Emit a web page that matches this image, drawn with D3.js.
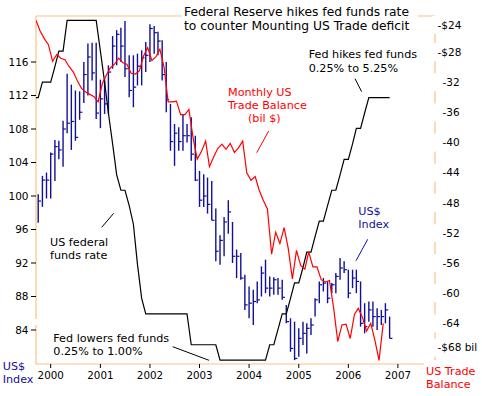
<!DOCTYPE html>
<meta charset="utf-8">
<body style="margin:0;background:#fff">
<script src="https://d3js.org/d3.v7.min.js"></script>
<script>
// US$ index, monthly bars Oct 1999 .. Nov 2006
var dxStart = new Date(1999, 9, 1);
var dxHigh = [100.2, 102.4, 102.8, 105.2, 106.7, 106.6, 109.0, 114.6, 113.3, 112.6, 112.5, 116.0,
  118.2, 118.3, 118.3, 113.9, 114.0, 115.6, 119.1, 119.8, 120.1, 120.9, 116.8, 116.8,
  117.0, 117.4, 118.4, 120.5, 120.3, 119.6, 118.6, 116.0, 111.0, 108.6, 108.2, 109.8,
  108.6, 109.4, 107.2, 103.0, 102.6, 102.2, 101.8, 98.5, 95.3, 97.5, 99.5, 96.9,
  93.6, 93.2, 90.6, 89.2, 88.8, 89.8, 91.6, 92.4, 90.4, 90.3, 90.2, 90.0,
  87.0, 85.4, 85.0, 84.2, 85.0, 84.8, 85.4, 87.8, 89.8, 90.2, 89.8, 89.6,
  90.8, 92.6, 92.2, 91.2, 91.2, 91.2, 89.8, 87.2, 87.4, 87.4, 86.6, 86.4, 87.2, 85.6];
var dxLow = [96.8, 98.7, 99.7, 99.7, 101.8, 104.4, 103.5, 107.5, 105.5, 106.6, 109.1, 111.1,
  112.0, 113.8, 109.2, 108.1, 109.8, 109.8, 115.2, 115.6, 116.0, 114.2, 111.8, 110.6,
  113.2, 113.2, 114.8, 116.0, 117.0, 116.8, 113.8, 110.0, 105.4, 103.6, 105.4, 105.4,
  106.4, 104.2, 101.8, 98.7, 98.7, 97.9, 97.1, 92.2, 91.8, 92.8, 95.5, 92.0,
  90.2, 90.0, 86.4, 85.4, 84.6, 87.2, 88.0, 88.4, 88.0, 88.2, 88.2, 87.6,
  84.8, 81.4, 80.4, 80.8, 82.2, 81.2, 83.4, 85.6, 87.2, 88.6, 87.2, 88.4,
  88.4, 90.0, 90.8, 87.8, 89.0, 88.4, 84.4, 83.6, 85.0, 84.4, 84.0, 84.6, 84.8, 83.0];
var dxClose = [99.4, 101.9, 101.9, 105.0, 105.9, 105.5, 108.0, 108.7, 108.9, 107.0, 110.0, 114.5,
  116.6, 114.7, 109.9, 111.6, 111.0, 114.8, 117.9, 119.3, 117.9, 115.2, 112.6, 113.0,
  115.5, 116.5, 116.8, 120.0, 119.5, 118.5, 114.5, 111.5, 106.5, 107.5, 106.5, 107.2,
  107.2, 105.0, 101.9, 99.5, 100.0, 99.0, 97.1, 93.4, 94.7, 96.9, 98.1, 92.8,
  92.8, 90.2, 87.0, 87.2, 87.4, 87.6, 90.8, 89.0, 89.0, 90.0, 89.0, 87.9,
  85.0, 81.8, 80.6, 83.0, 83.6, 84.2, 84.6, 87.6, 89.4, 89.6, 87.8, 89.4,
  90.4, 91.4, 91.2, 88.4, 90.2, 89.8, 84.8, 84.4, 86.4, 85.6, 85.6, 85.6, 86.4, 83.0];

// monthly US trade balance, bil $, Sep 1999 .. Sep 2006
var tradeStart = new Date(1999, 8, 15);
var tradeBalance = [-23.8, -25.2, -26.2, -27.0,
  -29.2, -28.3, -28.8, -29.0, -29.9, -30.6, -31.8, -32.8, -33.3, -33.6, -33.9, -34.6,
  -32.2, -31.0, -30.1, -29.6, -28.8, -29.4, -29.6, -30.8, -30.9, -30.5, -28.5, -27.4,
  -29.1, -28.6, -27.6, -30.0, -34.6, -34.6, -34.5, -36.3, -36.3, -35.6, -39.4, -42.2,
  -41.2, -39.8, -43.2, -41.9, -40.8, -40.2, -40.9, -40.1, -41.3, -40.7, -39.8, -44.0,
  -45.0, -44.5, -46.3, -47.7, -48.8, -54.8, -51.9, -53.4, -51.3, -54.0, -58.1, -54.3,
  -56.3, -56.8, -54.5, -56.5, -56.5, -58.2, -58.5, -58.3, -62.0, -66.4, -64.2, -64.1,
  -66.0, -62.8, -62.0, -63.2, -65.0, -64.0, -66.2, -68.9, -64.0];

// fed funds target rate, %, Sep 1999 .. Nov 2006
var fedStart = new Date(1999, 8, 1);
var fedFunds = [5.25, 5.25, 5.5, 5.5,
  5.5, 5.75, 6.0, 6.0, 6.5, 6.5, 6.5, 6.5, 6.5, 6.5, 6.5, 6.5,
  6.0, 5.5, 5.0, 4.5, 4.0, 3.75, 3.75, 3.5, 3.2, 2.55, 2.0, 1.75,
  1.75, 1.75, 1.75, 1.75, 1.75, 1.75, 1.75, 1.75, 1.75, 1.75, 1.25, 1.25,
  1.25, 1.25, 1.25, 1.25, 1.25, 1.0, 1.0, 1.0, 1.0, 1.0, 1.0, 1.0,
  1.0, 1.0, 1.0, 1.0, 1.0, 1.25, 1.25, 1.5, 1.75, 1.75, 2.0, 2.25,
  2.25, 2.5, 2.75, 2.75, 3.0, 3.25, 3.25, 3.5, 3.75, 3.75, 4.0, 4.25,
  4.25, 4.5, 4.75, 4.75, 5.0, 5.25, 5.25, 5.25, 5.25, 5.25, 5.25];

var years = [2000, 2001, 2002, 2003, 2004, 2005, 2006, 2007];
var leftTicks = [84, 88, 92, 96, 100, 104, 108, 112, 116];
var rightTicks = [-24, -28, -32, -36, -40, -44, -48, -52, -56, -60, -64, -68];
var rightTickLabels = ["-$24", "-$28", "-32", "-36", "-40", "-44", "-48", "-52", "-56", "-60", "-64", "-$68 bil"];

var W = 482, H = 396;
var L = 36, R = 435, T = 16, B = 364;
var orange = "#ffc080", blue = "#10109a", red = "#ff0000";

var svg = d3.select("body").append("svg")
  .attr("width", W).attr("height", H)
  .style("font-family", "'DejaVu Sans', Verdana, sans-serif");

var x = d3.scaleTime().domain([new Date(2000, 0, 1), new Date(2007, 0, 1)]).range([50.7, 397.9]);
var yDx = d3.scaleLinear().domain([116, 84]).range([62, 330]);
var yTr = d3.scaleLinear().domain([-32, -64]).range([82.3, 323.4]);
var yFed = d3.scaleLinear().domain([6.5, 1]).range([20.3, 360.2]);

svg.append("clipPath").attr("id", "plot")
  .append("rect").attr("x", L).attr("y", T).attr("width", R - L).attr("height", B - T);

// frame
var frame = svg.append("g").attr("stroke", orange).attr("stroke-width", 1.2);
frame.append("line").attr("x1", L).attr("x2", R).attr("y1", T).attr("y2", T);
frame.append("line").attr("x1", L).attr("x2", L).attr("y1", T).attr("y2", 319);
frame.append("line").attr("x1", L).attr("x2", L).attr("y1", 325).attr("y2", B);
frame.append("line").attr("x1", L).attr("x2", 424).attr("y1", B).attr("y2", B);
frame.append("line").attr("x1", R).attr("x2", R).attr("y1", T).attr("y2", 360);

// left axis
svg.append("g").selectAll("line").data(leftTicks).join("line")
  .attr("x1", 31).attr("x2", L).attr("y1", d => yDx(d)).attr("y2", d => yDx(d))
  .attr("stroke", "#000");
svg.append("g").selectAll("text").data(leftTicks).join("text")
  .attr("x", 28.5).attr("y", d => yDx(d)).attr("dy", "0.36em")
  .attr("text-anchor", "end").style("font-size", "10.5px").text(d => d);

// bottom axis
svg.append("g").selectAll("line").data(years).join("line")
  .attr("x1", d => x(new Date(d, 0, 1))).attr("x2", d => x(new Date(d, 0, 1)))
  .attr("y1", B).attr("y2", B + 4).attr("stroke", "#000");
svg.append("g").selectAll("text").data(years).join("text")
  .attr("x", d => x(new Date(d, 0, 1))).attr("y", 379)
  .attr("text-anchor", "middle").style("font-size", "10.3px").text(d => d);

var plot = svg.append("g").attr("clip-path", "url(#plot)");

// US$ index bars
var bars = plot.append("g").attr("stroke", blue).attr("stroke-width", 1.4);
dxHigh.forEach(function (h, i) {
  var xi = x(d3.timeMonth.offset(dxStart, i));
  bars.append("line").attr("x1", xi).attr("x2", xi).attr("y1", yDx(h)).attr("y2", yDx(dxLow[i]));
  bars.append("line").attr("x1", xi).attr("x2", xi + 2.8)
    .attr("y1", yDx(dxClose[i])).attr("y2", yDx(dxClose[i])).attr("stroke-width", 1.2);
});

// fed funds
plot.append("path")
  .datum(fedFunds)
  .attr("fill", "none").attr("stroke", "#000").attr("stroke-width", 1.2)
  .attr("d", d3.line().x((d, i) => x(d3.timeMonth.offset(fedStart, i))).y(d => yFed(d)));

// trade balance
plot.append("path")
  .datum(tradeBalance)
  .attr("fill", "none").attr("stroke", red).attr("stroke-width", 1.2)
  .attr("d", d3.line().x((d, i) => x(d3.timeMonth.offset(tradeStart, i))).y(d => yTr(d)));

// right axis labels, white boxes break the axis line
var rg = svg.append("g");
rg.selectAll("rect").data(rightTicks).join("rect")
  .attr("x", R - 3).attr("width", W - R + 3)
  .attr("y", (d, i) => yTr(d) - 9 + (i === 0 ? 3 : i === rightTicks.length - 1 ? -6 : 0))
  .attr("height", 18).attr("fill", "#fff");
rg.selectAll("text").data(rightTicks).join("text")
  .attr("x", (d, i) => rightTickLabels[i].indexOf("$") >= 0 ? 437.5 : 442.5)
  .attr("y", (d, i) => yTr(d) + (i === 0 ? 3 : i === rightTicks.length - 1 ? -6 : 0))
  .attr("dy", "0.36em").style("font-size", "10.5px")
  .text((d, i) => rightTickLabels[i]);

function note(xp, yp, lines, color, size, step, bg) {
  var g = svg.append("g");
  var t = g.append("text").attr("fill", color).style("font-size", size + "px");
  lines.forEach(function (s, i) {
    t.append("tspan").attr("x", xp).attr("y", yp + i * step).text(s);
  });
  if (bg) {
    var b = t.node().getBBox();
    g.insert("rect", "text").attr("x", b.x - 2).attr("y", b.y - 2)
      .attr("width", b.width + bg).attr("height", b.height + 4).attr("fill", "#fff");
  }
}

note(184, 16, ["Federal Reserve hikes fed funds rate", "to counter Mounting US Trade deficit"], "#000", 12.3, 14, 10);
note(308.7, 58.3, ["Fed hikes fed funds", "0.25% to 5.25%"], "#000", 11.2, 13.2);
note(228, 96, ["Monthly US", "Trade Balance"], red, 11.2, 13.2);
note(248, 122, ["(bil $)"], red, 11.2, 13.2);
note(50, 245.5, ["US federal", "funds rate"], "#000", 11.2, 13.2);
note(53.3, 341.5, ["Fed lowers fed funds", "0.25% to 1.00%"], "#000", 11.2, 13.2);
note(358.3, 215, ["US$", "Index"], blue, 11.2, 13.2);
note(2.7, 370, ["US$", "Index"], blue, 11.2, 13.2);
note(426, 375, ["US Trade", "Balance"], red, 11.2, 13.2);

// pointer strokes
var ptr = [
  [355, 78.7, 361.7, 91.7, "#000"],
  [268.7, 131, 256.7, 152.7, red],
  [113.7, 213.3, 101.7, 227.3, "#000"],
  [172.7, 346.7, 209, 360.3, "#000"],
  [367.7, 239.3, 356, 260.7, blue]
];
svg.append("g").selectAll("line").data(ptr).join("line")
  .attr("x1", d => d[0]).attr("y1", d => d[1]).attr("x2", d => d[2]).attr("y2", d => d[3])
  .attr("stroke", d => d[4]).attr("stroke-width", 1);
</script>
</body>
